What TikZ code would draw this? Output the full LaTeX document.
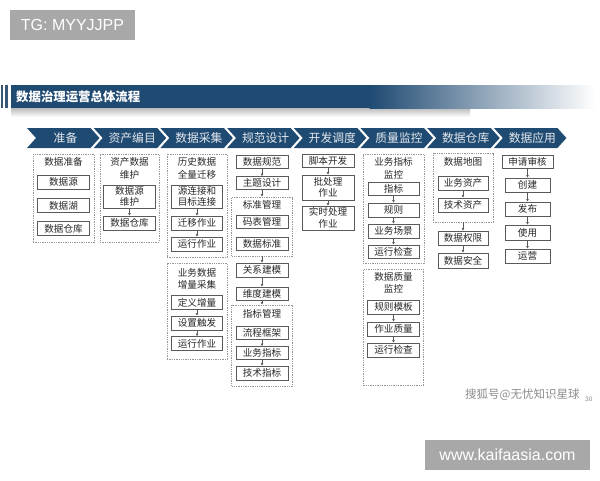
\documentclass[tikz,border=0pt]{standalone}
\usepackage{fontspec}
\setmainfont{Liberation Sans}
\newfontfamily\cjk{Noto Sans CJK SC}
\usetikzlibrary{arrows.meta}
\definecolor{navy}{RGB}{31,74,114}
\definecolor{bline}{RGB}{90,90,90}
\definecolor{dline}{RGB}{150,150,150}
\definecolor{btxt}{RGB}{40,40,40}
\definecolor{wm}{RGB}{168,168,168}
\tikzset{
  bx/.style={draw=bline, line width=0.6pt, fill=white, text=btxt,
    font=\cjk\fontsize{9.6}{11.5}\selectfont, align=center, inner sep=0pt,
    minimum width=52pt, minimum height=14pt},
  dbx/.style={draw=dline, line width=0.6pt, dash pattern=on 1.3pt off 1pt, inner sep=0pt},
  ttl/.style={text=btxt, font=\cjk\fontsize{9.6}{12.5}\selectfont, align=center, inner sep=0pt},
  arr/.style={-{Latex[length=2.6pt,width=2.8pt]}, line width=0.5pt, draw=bline},
  chev/.style={text=white!88!navy, font=\cjk\fontsize{11.8}{12}\selectfont, inner sep=0pt},
  wmbox/.style={fill=wm, text=white, font=\fontsize{16}{18}\selectfont, inner sep=0pt}
}
\begin{document}
\begin{tikzpicture}[x=1pt,y=-1pt]
\useasboundingbox (0,0) rectangle (600,480);

% watermarks
\node[wmbox, minimum width=125pt, minimum height=30pt] (wm1) at (72.5,25) {TG: MYYJJPP};
\node[wmbox, minimum width=165pt, minimum height=30pt] (wm2) at (507.5,455) {www.kaifaasia.com};

% header bar
\shade[top color=black!28, bottom color=white] (11,107.5) rectangle (470,117);
\fill[navy!75!gray] (0.5,85) rectangle (3,108);
\fill[navy!75!gray] (4.5,85) rectangle (7.5,108);
\fill[navy] (11,85) rectangle (370,108);
\shade[left color=navy, right color=white] (369.5,85) rectangle (595,108);
\node[anchor=west, text=white, font=\cjk\bfseries\fontsize{12.4}{14}\selectfont, inner sep=0pt] (hdr) at (16,96.5) {数据治理运营总体流程};

% chevrons
\foreach \t [count=\i from 0] in {准备,资产编目,数据采集,规范设计,开发调度,质量监控,数据仓库,数据应用} {
  \pgfmathsetmacro\xb{27+66.7*\i}
  \fill[navy] (\xb,128) -- ++(63.5,0) -- ++(9,10) -- ++(-9,10) -- ++(-63.5,0) -- ++(9,-10) -- cycle;
  \node[chev] (ch\i) at (\xb+38.5,138) {\t};
}

% column 1
\node[dbx, minimum width=61pt, minimum height=88pt] (d1) at (63.5,198) {};
\node[ttl] (d1t) at (63.5,162) {数据准备};
\node[bx] (b11) at (63.5,182) {数据源};
\node[bx] (b12) at (63.5,205.5) {数据湖};
\node[bx] (b13) at (63.5,228.5) {数据仓库};

% column 2
\node[dbx, minimum width=59pt, minimum height=88pt] (d2) at (129.5,198) {};
\node[ttl] (d2t) at (129.5,168.5) {资产数据\\维护};
\node[bx, minimum height=23pt] (b21) at (129.5,196.5) {数据源\\维护};
\node[bx] (b22) at (129.5,223) {数据仓库};
\draw[arr] (b21) -- (b22);

% column 3
\node[dbx, minimum width=60pt, minimum height=103pt] (d31) at (197,205.5) {};
\node[ttl] (d31t) at (197,168.5) {历史数据\\全量迁移};
\node[bx, minimum width=51pt, minimum height=23pt] (b31) at (197,196.5) {源连接和\\目标连接};
\node[bx, minimum width=51pt] (b32) at (197,223) {迁移作业};
\node[bx, minimum width=51pt] (b33) at (197,244) {运行作业};
\node[dbx, minimum width=60pt, minimum height=96pt] (d32) at (197,311) {};
\node[ttl] (d32t) at (197,279) {业务数据\\增量采集};
\node[bx, minimum width=51pt] (b34) at (197,302.5) {定义增量};
\node[bx, minimum width=51pt] (b35) at (197,323) {设置触发};
\node[bx, minimum width=51pt] (b36) at (197,343.5) {运行作业};
\draw[arr] (b31) -- (b32);
\draw[arr] (b32) -- (b33);
\draw[arr] (b34) -- (b35);
\draw[arr] (b35) -- (b36);

% column 4
\node[bx, minimum height=13pt] (b41) at (262,161.5) {数据规范};
\node[bx, minimum height=13pt] (b42) at (262,183) {主题设计};
\node[dbx, minimum width=61pt, minimum height=59pt] (d41) at (262,226.5) {};
\node[ttl] (d41t) at (262,205) {标准管理};
\node[bx, minimum height=13pt] (b43) at (262,221.5) {码表管理};
\node[bx, minimum height=13pt] (b44) at (262,244) {数据标准};
\node[bx] (b45) at (262,270) {关系建模};
\node[bx, minimum height=13pt] (b46) at (262,293.5) {维度建模};
\node[dbx, minimum width=61pt, minimum height=81pt] (d42) at (262,345.5) {};
\node[ttl] (d42t) at (262,314) {指标管理};
\node[bx, minimum height=13pt] (b47) at (262,332.5) {流程框架};
\node[bx, minimum height=13pt] (b48) at (262,353) {业务指标};
\node[bx] (b49) at (262,373) {技术指标};
\draw[arr] (b41) -- (b42);
\draw[arr] (b42) -- (d41);
\draw[arr] (d41) -- (b45);
\draw[arr] (b45) -- (b46);
\draw[arr] (b46) -- (d42);
\draw[arr] (b47) -- (b48);
\draw[arr] (b48) -- (b49);

% column 5
\node[bx, minimum height=13pt] (b51) at (328,161) {脚本开发};
\node[bx, minimum height=25pt] (b52) at (328,187.5) {批处理\\作业};
\node[bx, minimum height=24pt] (b53) at (328,218) {实时处理\\作业};
\draw[arr] (b51) -- (b52);
\draw[arr] (b52) -- (b53);

% column 6
\node[dbx, minimum width=61pt, minimum height=109pt] (d61) at (393.5,208.5) {};
\node[ttl] (d61t) at (393.5,168.5) {业务指标\\监控};
\node[bx, minimum width=51pt, minimum height=13pt] (b61) at (393.5,188.5) {指标};
\node[bx, minimum width=51pt] (b62) at (393.5,210) {规则};
\node[bx, minimum width=51pt] (b63) at (393.5,231) {业务场景};
\node[bx, minimum width=51pt, minimum height=13pt] (b64) at (393.5,251.5) {运行检查};
\draw[arr] (b61) -- (b62);
\draw[arr] (b62) -- (b63);
\draw[arr] (b63) -- (b64);
\node[dbx, minimum width=60pt, minimum height=116pt] (d62) at (393.5,327) {};
\node[ttl] (d62t) at (393.5,283) {数据质量\\监控};
\node[bx] (b65) at (393.5,307) {规则模板};
\node[bx] (b66) at (393.5,329) {作业质量};
\node[bx] (b67) at (393.5,350) {运行检查};
\draw[arr] (b65) -- (b66);
\draw[arr] (b66) -- (b67);

% column 7
\node[dbx, minimum width=60pt, minimum height=69pt] (d71) at (463,187.5) {};
\node[ttl] (d71t) at (463,162) {数据地图};
\node[bx, minimum width=50pt] (b71) at (463,183) {业务资产};
\node[bx, minimum width=50pt] (b72) at (463,205) {技术资产};
\node[bx, minimum width=50pt] (b73) at (463,238) {数据权限};
\node[bx, minimum width=50pt, minimum height=15pt] (b74) at (463,260.5) {数据安全};
\draw[arr] (b71) -- (b72);
\draw[arr] (d71) -- (b73);
\draw[arr] (b73) -- (b74);

% column 8
\node[bx, minimum width=51pt, minimum height=13pt] (b81) at (527.5,161.5) {申请审核};
\node[bx, minimum width=45pt] (b82) at (527.5,185) {创建};
\node[bx, minimum width=45pt] (b83) at (527.5,209) {发布};
\node[bx, minimum width=45pt, minimum height=15pt] (b84) at (527.5,232.5) {使用};
\node[bx, minimum width=45pt] (b85) at (527.5,256) {运营};
\draw[arr] (b81) -- (b82);
\draw[arr] (b82) -- (b83);
\draw[arr] (b83) -- (b84);
\draw[arr] (b84) -- (b85);

% footer text
\node[anchor=west, text=black!45, font=\cjk\fontsize{11.5}{12}\selectfont, inner sep=0pt] (sohu) at (465,395) {搜狐号@无忧知识星球};
\node[anchor=west, text=black!45, font=\fontsize{6.5}{7}\selectfont, inner sep=0pt] (pg) at (585,399.5) {30};
\end{tikzpicture}
\end{document}
